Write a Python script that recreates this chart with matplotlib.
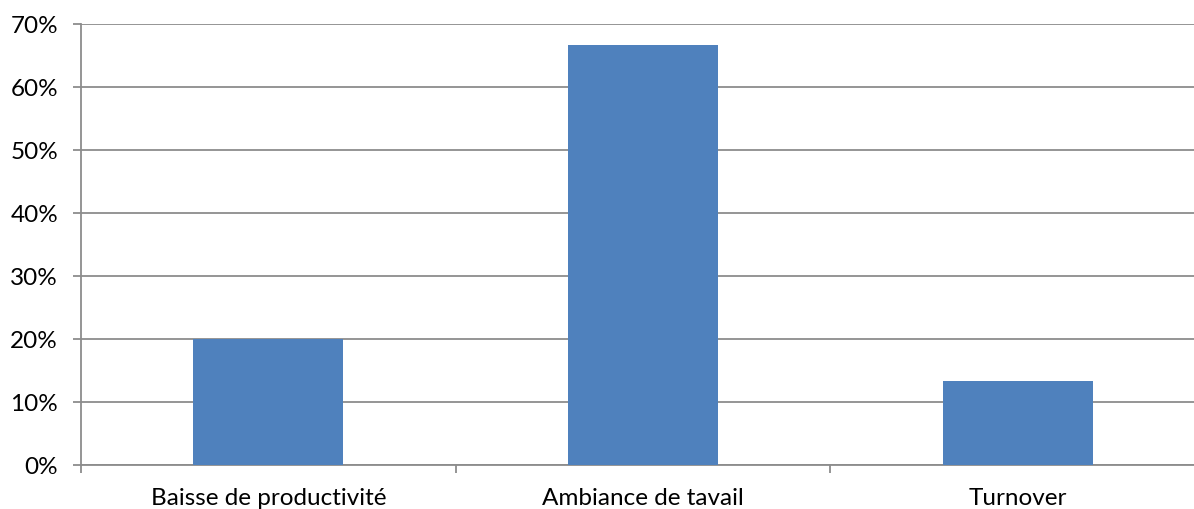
import matplotlib
matplotlib.use("Agg")
import matplotlib.pyplot as plt
from matplotlib.ticker import PercentFormatter, FixedLocator

categories = ["Baisse de productivité", "Ambiance de tavail", "Turnover"]
shares = [0.20, 0.667, 0.133]
y_ticks = [0.0, 0.1, 0.2, 0.3, 0.4, 0.5, 0.6, 0.7]

plt.rcParams["font.family"] = ["Lato", "DejaVu Sans"]
grid_color = "#8c8c8c"

W, H = 1194, 510
fig = plt.figure(figsize=(W / 100, H / 100), dpi=100)
# plot area runs a little past the right edge of the canvas
ax = fig.add_axes([81 / W, 44 / H, (1205 - 81) / W, (466 - 25) / H])

x = range(len(categories))
ax.bar(x, shares, width=0.4, color="#4f81bd", zorder=3)

ax.set_xlim(-0.5, len(categories) - 0.5)
ax.set_ylim(0, 0.7)
ax.set_yticks(y_ticks)
ax.yaxis.set_major_formatter(PercentFormatter(1.0, decimals=0))
ax.yaxis.grid(True, color=grid_color, linewidth=1.3, zorder=0)

ax.set_xticks(list(x))
ax.set_xticklabels(categories)
ax.xaxis.set_minor_locator(FixedLocator([-0.5 + i for i in range(len(categories) + 1)]))

for side in ("top", "right"):
    ax.spines[side].set_visible(False)
for side in ("left", "bottom"):
    ax.spines[side].set_color(grid_color)
    ax.spines[side].set_linewidth(1.3)

ax.tick_params(axis="y", length=5.5, width=1.3, color=grid_color, pad=11,
               labelsize=17.5, labelcolor="black")
ax.tick_params(axis="x", which="major", length=0, pad=15.5, labelsize=17.5,
               labelcolor="black")
ax.tick_params(axis="x", which="minor", length=5.5, width=1.3, color=grid_color)

fig.savefig("out.png", dpi=100)
